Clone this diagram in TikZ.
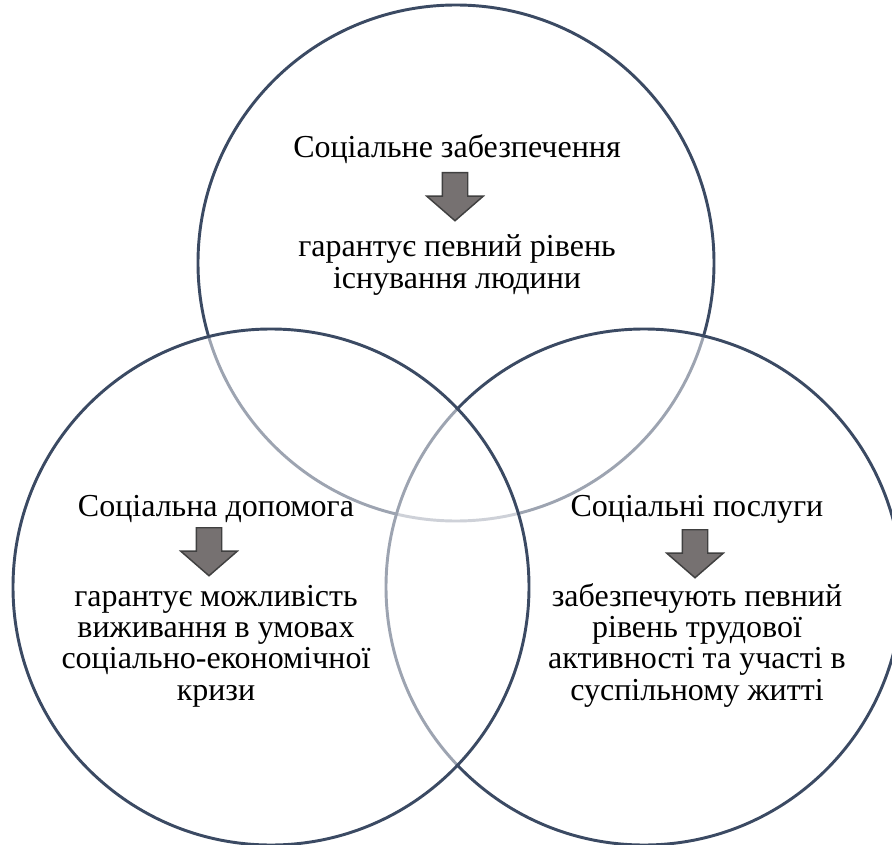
\documentclass[tikz,border=0pt]{standalone}
\usepackage{fontspec}
\setmainfont{Liberation Serif}
\usetikzlibrary{shapes.arrows}
\definecolor{ringcol}{RGB}{59,74,99}
\definecolor{arrowfill}{RGB}{118,113,113}
\definecolor{arrowline}{RGB}{64,64,64}
\tikzset{
   ring/.style={draw=ringcol, line width=2.2pt, fill=white, fill opacity=0.5},
   txt/.style={inner sep=0pt, align=center, font=\fontsize{24}{23.5}\selectfont},
   downarrow/.style={single arrow, shape border rotate=0, rotate=-90, anchor=tail,
      draw=arrowline, line width=1.1pt, fill=arrowfill, inner xsep=0pt, inner ysep=9pt,
      minimum height=36pt, single arrow head extend=11.6pt, single arrow tip angle=98}
}
\begin{document}
\begin{tikzpicture}[x=0.75pt,y=-0.75pt] % <- one unit is one pixel
   % Page frame
   \useasboundingbox (0,0) rectangle (892,845);
   % Circles: top first, then right, then left
   \draw[ring] (456,263) circle [radius=258];
   \draw[ring] (644,587) circle [radius=258];
   \draw[ring] (271,587) circle [radius=258];
   % Top circle (base = last line)
   \node[txt, anchor=base] (topHead) at (457,157) {Соціальне забезпечення};
   \node[downarrow] (topArrow) at (455,172) {};
   \node[txt, anchor=base] (topText) at (457,288) {гарантує певний рівень\\існування людини};
   % Left circle
   \node[txt, anchor=base] (leftHead) at (216,516) {Соціальна допомога};
   \node[downarrow] (leftArrow) at (209,527) {};
   \node[txt, anchor=base] (leftText) at (216,700) {гарантує можливість\\виживання в умовах\\соціально-економічної\\кризи};
   % Right circle
   \node[txt, anchor=base] (rightHead) at (697,516) {Соціальні послуги};
   \node[downarrow] (rightArrow) at (695,529) {};
   \node[txt, anchor=base] (rightText) at (697,700) {забезпечують певний\\рівень трудової\\активності та участі в\\суспільному житті};
\end{tikzpicture}
\end{document}
